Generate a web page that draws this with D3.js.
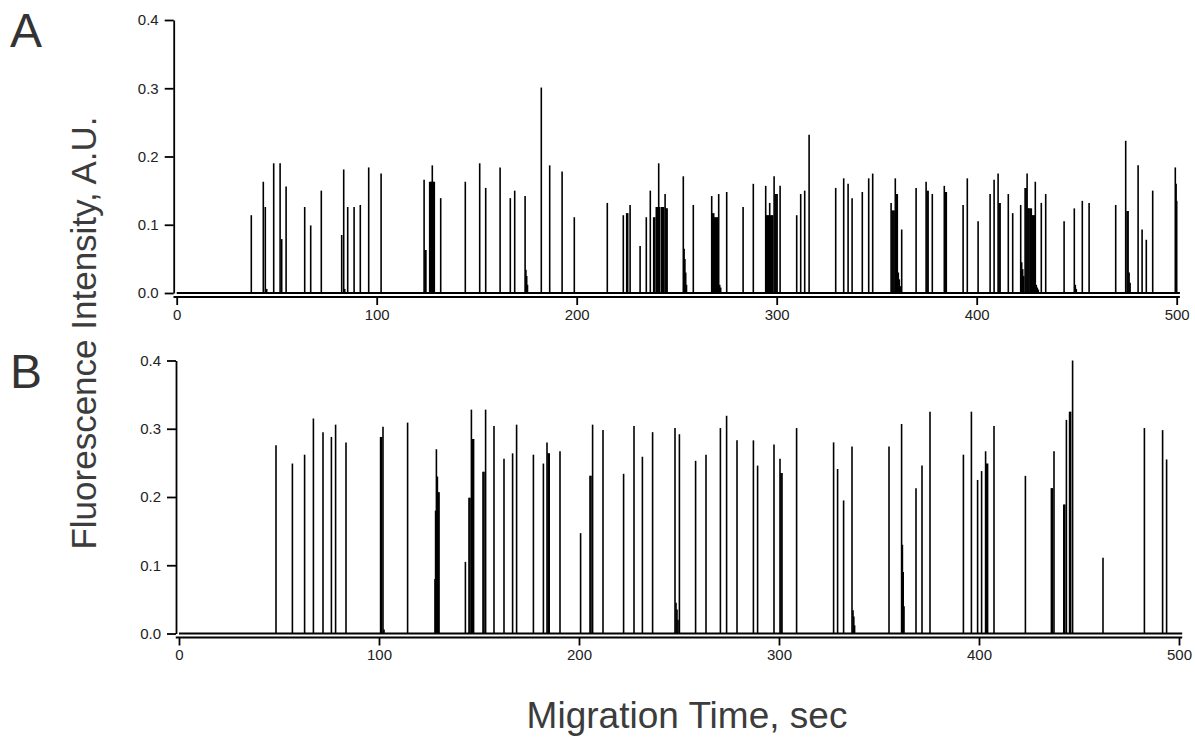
<!DOCTYPE html>
<html>
<head>
<meta charset="utf-8">
<script src="https://cdn.jsdelivr.net/npm/d3@7"></script>
<style>
  html, body { margin: 0; padding: 0; background: #fff; }
  svg { display: block; }
  text { font-family: "Liberation Sans", Arial, Helvetica, sans-serif; }
</style>
</head>
<body>
<svg id="chart" width="1195" height="742"></svg>
<script>
// Electropherogram A: migration time (s) and fluorescence intensity (A.U.)
const timesA = [
  37.3, 43.3, 44.3, 45.0, 48.5, 51.7, 52.5, 54.7, 64.0, 67.0, 72.3,
  82.5, 83.5, 84.0, 85.5, 88.7, 91.8, 96.0, 102.2,
  123.7, 124.2, 124.6, 126.5, 127.0, 127.5, 127.8, 128.3, 128.8, 132.0,
  144.3, 151.5, 154.5, 161.7, 166.8, 169.0, 174.2, 174.6, 175.0, 175.4,
  182.3, 186.5, 192.7, 198.8, 215.3, 223.3, 225.0, 225.5, 226.7, 231.7,
  234.8, 236.8, 238.5, 239.0, 239.8, 240.3, 241.0, 241.5, 242.5, 243.0,
  243.5, 244.2, 244.7, 245.2,
  253.3, 253.7, 254.1, 254.5, 254.9, 258.3,
  267.5, 268.0, 268.5, 269.0, 269.5, 270.0, 270.5, 271.0, 271.5, 272.0,
  275.0, 283.2, 288.3,
  294.5, 295.0, 295.5, 296.0, 296.5, 297.0, 297.5, 298.0, 298.7, 299.2,
  299.7, 300.2, 301.7,
  310.0, 312.0, 314.0, 316.2, 329.5, 333.5, 335.7, 337.7, 342.8, 346.0,
  348.0,
  357.2, 357.7, 358.2, 358.7, 359.3, 359.8, 360.3, 360.8, 361.3, 361.8,
  362.5, 369.7, 374.7, 375.2, 375.7, 377.8, 383.8, 384.3, 384.8,
  393.2, 395.3, 400.7, 406.7, 408.7, 410.7, 411.2, 411.7, 415.8, 418.0,
  422.0, 422.5, 423.0, 423.5, 424.2, 424.7, 425.2, 425.7, 426.2, 426.8,
  427.3, 427.8, 428.3, 428.8, 429.3, 429.8, 430.3, 430.8,
  432.3, 434.5, 443.7, 448.8, 449.3, 449.8, 452.8, 456.2, 469.5,
  474.5, 475.2, 475.7, 476.2, 476.7, 480.7, 482.7, 484.8, 488.0,
  499.3, 499.7, 500.0
];
const intensityA = [
  0.114, 0.163, 0.126, 0.006, 0.190, 0.190, 0.079, 0.156, 0.126, 0.099, 0.150,
  0.085, 0.181, 0.006, 0.126, 0.126, 0.129, 0.184, 0.175,
  0.166, 0.063, 0.063, 0.163, 0.163, 0.163, 0.187, 0.163, 0.163, 0.139,
  0.163, 0.190, 0.154, 0.184, 0.139, 0.150, 0.142, 0.034, 0.025, 0.012,
  0.301, 0.187, 0.178, 0.111, 0.132, 0.114, 0.117, 0.117, 0.129, 0.069,
  0.111, 0.150, 0.111, 0.111, 0.126, 0.126, 0.190, 0.126, 0.126, 0.126,
  0.126, 0.145, 0.124, 0.124,
  0.171, 0.065, 0.050, 0.030, 0.012, 0.129,
  0.142, 0.117, 0.117, 0.111, 0.111, 0.111, 0.111, 0.145, 0.012, 0.008,
  0.148, 0.126, 0.160,
  0.157, 0.114, 0.114, 0.114, 0.132, 0.114, 0.114, 0.114, 0.171, 0.145,
  0.145, 0.145, 0.157,
  0.114, 0.145, 0.150, 0.232, 0.154, 0.168, 0.160, 0.139, 0.148, 0.168,
  0.175,
  0.132, 0.121, 0.121, 0.121, 0.168, 0.145, 0.145, 0.030, 0.020, 0.010,
  0.093, 0.154, 0.163, 0.150, 0.150, 0.145, 0.157, 0.148, 0.148,
  0.129, 0.168, 0.105, 0.145, 0.166, 0.175, 0.132, 0.132, 0.145, 0.117,
  0.129, 0.045, 0.035, 0.025, 0.154, 0.154, 0.175, 0.124, 0.124, 0.124,
  0.124, 0.114, 0.114, 0.114, 0.163, 0.012, 0.008, 0.005,
  0.132, 0.145, 0.105, 0.124, 0.012, 0.006, 0.135, 0.132, 0.129,
  0.223, 0.120, 0.120, 0.030, 0.015, 0.187, 0.093, 0.078, 0.150,
  0.184, 0.160, 0.135
];

// Electropherogram B
const timesB = [
  48.5, 56.7, 62.8, 67.2, 72.0, 76.2, 78.3, 83.5,
  100.8, 101.3, 102.0, 102.5, 114.3,
  128.0, 128.3, 128.7, 129.2, 129.7, 130.0,
  143.2, 145.0, 145.5, 146.2, 146.8, 147.3, 152.0, 152.5, 153.3,
  157.5, 162.5, 166.8, 168.8, 177.2, 182.2, 184.0, 184.6, 185.1, 190.5,
  200.8, 205.5, 206.0, 206.8, 212.0, 222.3, 227.5, 231.7, 236.8,
  248.0, 248.5, 249.0, 249.5, 250.2, 258.3, 263.5, 270.7, 273.8, 279.0,
  287.2, 289.3, 297.5, 300.5, 301.0, 301.5, 308.8,
  327.3, 329.3, 332.3, 336.5, 337.0, 337.4, 337.8, 355.0,
  361.3, 361.7, 362.1, 362.5, 368.5, 371.5, 375.5,
  392.2, 396.2, 399.3, 401.3, 403.3, 403.8, 404.3, 407.5, 423.2,
  436.2, 436.7, 437.5, 442.4, 442.9, 443.7, 445.3, 445.8, 446.8,
  462.0, 482.7, 491.8, 493.8
];
const intensityB = [
  0.276, 0.249, 0.262, 0.315, 0.295, 0.288, 0.306, 0.280,
  0.288, 0.288, 0.303, 0.006, 0.309,
  0.080, 0.180, 0.270, 0.230, 0.207, 0.207,
  0.105, 0.199, 0.199, 0.328, 0.285, 0.285, 0.237, 0.237, 0.328,
  0.304, 0.256, 0.264, 0.306, 0.262, 0.249, 0.280, 0.264, 0.264, 0.267,
  0.147, 0.231, 0.231, 0.306, 0.298, 0.234, 0.304, 0.259, 0.295,
  0.301, 0.045, 0.035, 0.020, 0.292, 0.253, 0.262, 0.301, 0.319, 0.283,
  0.283, 0.246, 0.277, 0.256, 0.235, 0.235, 0.301,
  0.280, 0.241, 0.195, 0.274, 0.034, 0.025, 0.012, 0.274,
  0.307, 0.130, 0.090, 0.040, 0.213, 0.246, 0.325,
  0.262, 0.325, 0.225, 0.238, 0.267, 0.249, 0.249, 0.304, 0.231,
  0.213, 0.213, 0.267, 0.189, 0.189, 0.313, 0.325, 0.325, 0.400,
  0.111, 0.301, 0.298, 0.255
];

const xTicks = [0, 100, 200, 300, 400, 500];
const yTicks = [0.0, 0.1, 0.2, 0.3, 0.4];

const svg = d3.select("#chart");
const ink = "#000";

function drawPanel(cfg) {
  const { times, values, x, y, letter, letterY } = cfg;
  const g = svg.append("g");
  const y0 = y(0);

  // y axis with ticks to the left
  const yAxis = d3.axisLeft(y).tickValues(yTicks).tickFormat(d3.format(".1f"))
    .tickSize(9).tickSizeOuter(0).tickPadding(6);
  g.append("g")
    .attr("transform", `translate(${x(0) - 3},0)`)
    .call(yAxis)
    .call(a => a.select(".domain").attr("stroke-width", 1.8))
    .call(a => a.selectAll(".tick line").attr("stroke-width", 1.8))
    .call(a => a.selectAll("text").attr("font-size", 15).attr("fill", "#222")
      .attr("font-family", "'Liberation Sans', Arial, sans-serif"));

  // x axis line sits a few pixels beneath the signal baseline
  const axisY = y0 + 4;
  g.append("line")
    .attr("x1", x(-1.6)).attr("x2", x(501.6))
    .attr("y1", axisY).attr("y2", axisY)
    .attr("stroke", ink).attr("stroke-width", 1.8);
  const xAxis = d3.axisBottom(x).tickValues(xTicks).tickFormat(d3.format("d"))
    .tickSize(8).tickSizeOuter(0).tickPadding(4);
  g.append("g")
    .attr("transform", `translate(0,${axisY})`)
    .call(xAxis)
    .call(a => a.select(".domain").remove())
    .call(a => a.selectAll(".tick line").attr("stroke-width", 1.8))
    .call(a => a.selectAll("text").attr("font-size", 15).attr("fill", "#222")
      .attr("font-family", "'Liberation Sans', Arial, sans-serif"));

  // signal baseline
  g.append("line")
    .attr("x1", x(0)).attr("x2", x(501.6))
    .attr("y1", y0).attr("y2", y0)
    .attr("stroke", ink).attr("stroke-width", 2);

  // peaks as vertical spikes from the baseline
  const peaks = times.map((t, i) => ({ t, v: values[i] }));
  g.append("g").selectAll("line")
    .data(peaks)
    .join("line")
    .attr("x1", d => x(d.t)).attr("x2", d => x(d.t))
    .attr("y1", y0).attr("y2", d => y(d.v))
    .attr("stroke", ink).attr("stroke-width", 1.6);

  // panel letter
  svg.append("text")
    .attr("x", 10).attr("y", letterY)
    .attr("font-size", 48).attr("fill", "#333")
    .text(letter);
}

const xA = d3.scaleLinear().domain([0, 500]).range([176.7, 1176.7]);
const yA = d3.scaleLinear().domain([0, 0.4]).range([293, 20]);
const xB = d3.scaleLinear().domain([0, 500]).range([179, 1179]);
const yB = d3.scaleLinear().domain([0, 0.4]).range([633.5, 360.5]);

drawPanel({ times: timesA, values: intensityA, x: xA, y: yA, letter: "A", letterY: 47 });
drawPanel({ times: timesB, values: intensityB, x: xB, y: yB, letter: "B", letterY: 388 });

// shared axis titles
svg.append("text")
  .attr("transform", "translate(96,333) rotate(-90)")
  .attr("text-anchor", "middle")
  .attr("font-size", 35).attr("fill", "#3c3c3c")
  .text("Fluorescence Intensity, A.U.");

svg.append("text")
  .attr("x", 687).attr("y", 728)
  .attr("text-anchor", "middle")
  .attr("font-size", 37).attr("fill", "#3c3c3c")
  .text("Migration Time, sec");
</script>
</body>
</html>
